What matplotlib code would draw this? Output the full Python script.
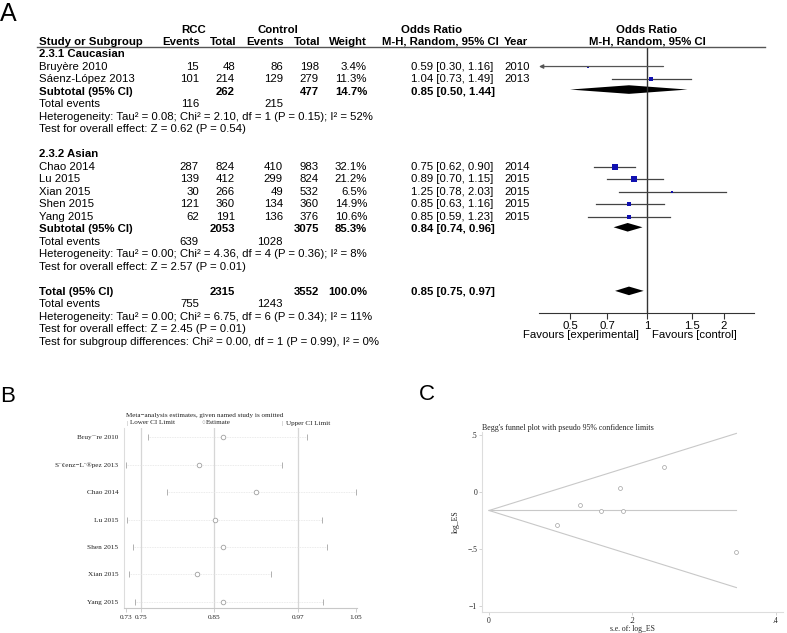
import numpy as np
import matplotlib
matplotlib.use("Agg")
import matplotlib.pyplot as plt
from matplotlib.lines import Line2D

# ---- panel A: forest plot data ----
study = ['Bruyère 2010', 'Sáenz-López 2013', 'Chao 2014', 'Lu 2015', 'Xian 2015', 'Shen 2015', 'Yang 2015']
group = [0, 0, 1, 1, 1, 1, 1]
rcc_events = [15, 101, 287, 139, 30, 121, 62]
rcc_total = [48, 214, 824, 412, 266, 360, 191]
ctl_events = [86, 129, 410, 299, 49, 134, 136]
ctl_total = [198, 279, 983, 824, 532, 360, 376]
weight = [3.4, 11.3, 32.1, 21.2, 6.5, 14.9, 10.6]
or_est = [0.59, 1.04, 0.75, 0.89, 1.25, 0.85, 0.85]
or_lo = [0.30, 0.73, 0.62, 0.70, 0.78, 0.63, 0.59]
or_hi = [1.16, 1.49, 0.90, 1.15, 2.03, 1.16, 1.23]
year = [2010, 2013, 2014, 2015, 2015, 2015, 2015]

sub_name = ['2.3.1 Caucasian', '2.3.2 Asian']
sub_rcc_total = [262, 2053]
sub_ctl_total = [477, 3075]
sub_weight = [14.7, 85.3]
sub_or = [0.85, 0.84]
sub_lo = [0.50, 0.74]
sub_hi = [1.44, 0.96]
sub_rcc_events = [116, 639]
sub_ctl_events = [215, 1028]
sub_het = ['Heterogeneity: Tau² = 0.08; Chi² = 2.10, df = 1 (P = 0.15); I² = 52%',
           'Heterogeneity: Tau² = 0.00; Chi² = 4.36, df = 4 (P = 0.36); I² = 8%']
sub_z = ['Test for overall effect: Z = 0.62 (P = 0.54)',
         'Test for overall effect: Z = 2.57 (P = 0.01)']

tot_rcc_total, tot_ctl_total = 2315, 3552
tot_or, tot_lo, tot_hi = 0.85, 0.75, 0.97
tot_rcc_events, tot_ctl_events = 755, 1243
tot_lines = ['Heterogeneity: Tau² = 0.00; Chi² = 6.75, df = 6 (P = 0.34); I² = 11%',
             'Test for overall effect: Z = 2.45 (P = 0.01)',
             'Test for subgroup differences: Chi² = 0.00, df = 1 (P = 0.99), I² = 0%']
forest_ticks = [0.5, 0.7, 1, 1.5, 2]

# ---- panel B: leave-one-out sensitivity ----
sens_label = ['Bruy¨¨re 2010', 'S¨¢enz−L¨®pez 2013', 'Chao 2014', 'Lu 2015',
              'Shen 2015', 'Xian 2015', 'Yang 2015']
sens_est = [0.866, 0.834, 0.912, 0.856, 0.866, 0.831, 0.866]
sens_lo = [0.764, 0.734, 0.790, 0.735, 0.743, 0.738, 0.746]
sens_hi = [0.982, 0.947, 1.049, 1.002, 1.010, 0.933, 1.004]
sens_ticks = [0.733, 0.754, 0.854, 0.969, 1.049]
sens_tick_labels = ['0.73', '0.75', '0.85', '0.97', '1.05']
sens_ref = [0.754, 0.854, 0.969]

# ---- panel C: Begg's funnel ----
funnel_se = [0.345, 0.182, 0.095, 0.127, 0.244, 0.156, 0.187]
funnel_log = [-0.528, 0.039, -0.288, -0.117, 0.223, -0.163, -0.163]
pooled_log = np.log(0.85)

W, H = 787, 633
fig = plt.figure(figsize=(W / 100, H / 100), dpi=100)
SANS = 'Liberation Sans'
SERIF = 'Liberation Serif'
FS = 8.2


def rect(x0, y0, x1, y1):
    return [x0 / W, 1 - y1 / H, (x1 - x0) / W, (y1 - y0) / H]


def put(x, y, s, ha='left', bold=False, size=FS, family=SANS, **kw):
    fig.text(x / W, 1 - y / H, s, ha=ha, va='center', fontsize=size,
             fontweight='bold' if bold else 'normal', family=family, **kw)


# ================= panel A =================
fig.text(0 / W, 1 - 14 / H, 'A', fontsize=18, family=SANS, va='center', ha='left')

put(194, 30, 'RCC', ha='center', bold=True)
put(278, 30, 'Control', ha='center', bold=True)
put(432, 30, 'Odds Ratio', ha='center', bold=True)
put(647, 30, 'Odds Ratio', ha='center', bold=True)
put(39, 42, 'Study or Subgroup', bold=True)
for xx, lab in zip([200, 236, 284, 320, 367], ['Events', 'Total', 'Events', 'Total', 'Weight']):
    put(xx, 42, lab, ha='right', bold=True)
put(382, 42, 'M-H, Random, 95% CI', bold=True)
put(528, 42, 'Year', ha='right', bold=True)
put(647, 42, 'M-H, Random, 95% CI', ha='center', bold=True)
fig.add_artist(Line2D([37 / W, 765 / W], [1 - 47 / H] * 2, color='#555555', lw=1))

ROW0, DR = 54, 12.52


def ry(k):
    return ROW0 + DR * k


XMIN, XMAX = 0.378, 2.62
axA = fig.add_axes(rect(539, 47, 754, 313))
axA.set_xscale('log')
axA.set_xlim(XMIN, XMAX)
axA.set_ylim(313, 47)
for s in ['top', 'left', 'right']:
    axA.spines[s].set_visible(False)
axA.spines['bottom'].set_color('#333333')
axA.axvline(1, color='#333333', lw=1)
axA.set_yticks([])
axA.set_xticks(forest_ticks)
axA.set_xticklabels([str(t) for t in forest_ticks], family=SANS, fontsize=8.2)
axA.minorticks_off()
axA.tick_params(axis='x', length=4, width=0.8, color='#333333', pad=2)


def diamond(y, lo, est, hi, h=4.3):
    axA.fill([lo, est, hi, est], [y, y - h, y, y + h], color='black', lw=0)


k = 0
for g in range(2):
    put(39, ry(k), sub_name[g], bold=True)
    k += 1
    for i in range(len(study)):
        if group[i] != g:
            continue
        y = ry(k)
        put(39, y, study[i])
        put(199, y, str(rcc_events[i]), ha='right')
        put(235, y, str(rcc_total[i]), ha='right')
        put(283, y, str(ctl_events[i]), ha='right')
        put(319, y, str(ctl_total[i]), ha='right')
        put(367, y, '%.1f%%' % weight[i], ha='right')
        put(411, y, '%.2f [%.2f, %.2f]' % (or_est[i], or_lo[i], or_hi[i]))
        put(504, y, str(year[i]))
        if or_lo[i] < XMIN:
            axA.annotate('', xy=(XMIN, y), xytext=(or_hi[i], y),
                         arrowprops=dict(arrowstyle='-|>', color='#555555', lw=0.9,
                                         mutation_scale=6, shrinkA=0, shrinkB=0))
        else:
            axA.plot([or_lo[i], or_hi[i]], [y, y], color='#444444', lw=0.9)
        side = 1.15 * np.sqrt(weight[i]) * 0.72
        axA.plot(or_est[i], y, 's', color='#1010b0', ms=side, mew=0)
        k += 1
    y = ry(k)
    put(39, y, 'Subtotal (95% CI)', bold=True)
    put(235, y, str(sub_rcc_total[g]), ha='right', bold=True)
    put(319, y, str(sub_ctl_total[g]), ha='right', bold=True)
    put(367, y, '%.1f%%' % sub_weight[g], ha='right', bold=True)
    put(411, y, '%.2f [%.2f, %.2f]' % (sub_or[g], sub_lo[g], sub_hi[g]), bold=True)
    diamond(y - 2, sub_lo[g], sub_or[g], sub_hi[g])
    k += 1
    y = ry(k)
    put(39, y, 'Total events')
    put(199, y, str(sub_rcc_events[g]), ha='right')
    put(283, y, str(sub_ctl_events[g]), ha='right')
    k += 1
    put(39, ry(k), sub_het[g])
    k += 1
    put(39, ry(k), sub_z[g])
    k += 2

y = ry(k)
put(39, y, 'Total (95% CI)', bold=True)
put(235, y, str(tot_rcc_total), ha='right', bold=True)
put(319, y, str(tot_ctl_total), ha='right', bold=True)
put(367, y, '100.0%', ha='right', bold=True)
put(411, y, '%.2f [%.2f, %.2f]' % (tot_or, tot_lo, tot_hi), bold=True)
diamond(y - 1, tot_lo, tot_or, tot_hi)
k += 1
y = ry(k)
put(39, y, 'Total events')
put(199, y, str(tot_rcc_events), ha='right')
put(283, y, str(tot_ctl_events), ha='right')
for line in tot_lines:
    k += 1
    put(39, ry(k), line)
put(639, 335, 'Favours [experimental]', ha='right', size=8.2)
put(652, 335, 'Favours [control]', ha='left', size=8.2)

# ================= panel B =================
fig.text(0 / W, 1 - 396 / H, 'B', fontsize=16, family=SANS, va='center', ha='left')
GRAY = '#c8c8c8'
TXT = '#222222'
put(126, 415, 'Meta−analysis estimates, given named study is omitted', size=5.1, family=SERIF, color=TXT)
put(126, 423, '|', size=5.1, family=SERIF, color='#999999')
put(130, 423, 'Lower CI Limit', size=5.1, family=SERIF, color=TXT)
put(201, 423, '○', size=4.4, family=[SERIF, 'DejaVu Sans'], color='#999999')
put(206, 423, 'Estimate', size=5.1, family=SERIF, color=TXT)
put(282, 423, '|', size=5.1, family=SERIF, color='#999999')
put(286, 423, 'Upper CI Limit', size=5.1, family=SERIF, color=TXT)

axB = fig.add_axes(rect(124, 428, 357, 608))
rows = np.arange(len(sens_label))
axB.set_xlim(0.7308, 1.0505)
axB.set_ylim(6.22, -0.33)
for xv in sens_ref:
    axB.axvline(xv, color='#d6d6d6', lw=0.9, zorder=0)
for i in rows:
    axB.plot([sens_lo[i], sens_hi[i]], [i, i], color='#e4e4e4', lw=0.6, ls=(0, (1, 1)))
axB.plot(sens_lo, rows, ls='none', marker='|', ms=4, mew=0.7, color='#b0b0b0')
axB.plot(sens_hi, rows, ls='none', marker='|', ms=4, mew=0.7, color='#b0b0b0')
axB.plot(sens_est, rows, ls='none', marker='o', ms=3.3, mfc='white', mec='#a0a0a0', mew=0.6)
for s in ['top', 'right']:
    axB.spines[s].set_visible(False)
axB.spines['left'].set_color('#dddddd')
axB.spines['bottom'].set_color(GRAY)
axB.set_yticks(rows)
axB.set_yticklabels(sens_label, family=SERIF, fontsize=5.2, color=TXT)
axB.set_xticks(sens_ticks)
axB.set_xticklabels(sens_tick_labels, family=SERIF, fontsize=5.2, color=TXT)
axB.tick_params(axis='y', length=0, pad=4)
axB.tick_params(axis='x', length=3, width=0.6, color=GRAY, pad=2)

# ================= panel C =================
fig.text(419 / W, 1 - 395 / H, 'C', fontsize=16, family=SANS, va='center', ha='left')
put(482, 428, "Begg's funnel plot with pseudo 95% confidence limits", size=5.7, family=SERIF, color=TXT)
axC = fig.add_axes(rect(482, 432, 783, 612))
axC.set_xlim(-0.0098, 0.41)
axC.set_ylim(-1.053, 0.526)
se_max = max(funnel_se)
axC.plot([0, se_max], [pooled_log, pooled_log + 1.96 * se_max], color=GRAY, lw=0.8)
axC.plot([0, se_max], [pooled_log, pooled_log - 1.96 * se_max], color=GRAY, lw=0.8)
axC.plot([0, se_max], [pooled_log, pooled_log], color=GRAY, lw=0.8)
axC.plot(funnel_se, funnel_log, ls='none', marker='o', ms=2.8, mfc='white', mec='#a0a0a0', mew=0.5)
for s in ['top', 'right']:
    axC.spines[s].set_visible(False)
for s in ['left', 'bottom']:
    axC.spines[s].set_color('#dddddd')
axC.set_xticks([0, 0.2, 0.4])
axC.set_xticklabels(['0', '.2', '.4'], family=SERIF, fontsize=5.5, color=TXT)
axC.set_yticks([0.5, 0, -0.5, -1])
axC.set_yticklabels(['.5', '0', '−.5', '−1'], family=SERIF, fontsize=5.5, color=TXT)
axC.tick_params(length=2.5, width=0.6, color='#cccccc', pad=1)
axC.set_ylabel('log_ES', family=SERIF, fontsize=5.5, color=TXT, labelpad=5)
put(632, 629, 's.e. of: log_ES', ha='center', size=5.5, family=SERIF, color=TXT)

fig.savefig('out.png', dpi=100)
